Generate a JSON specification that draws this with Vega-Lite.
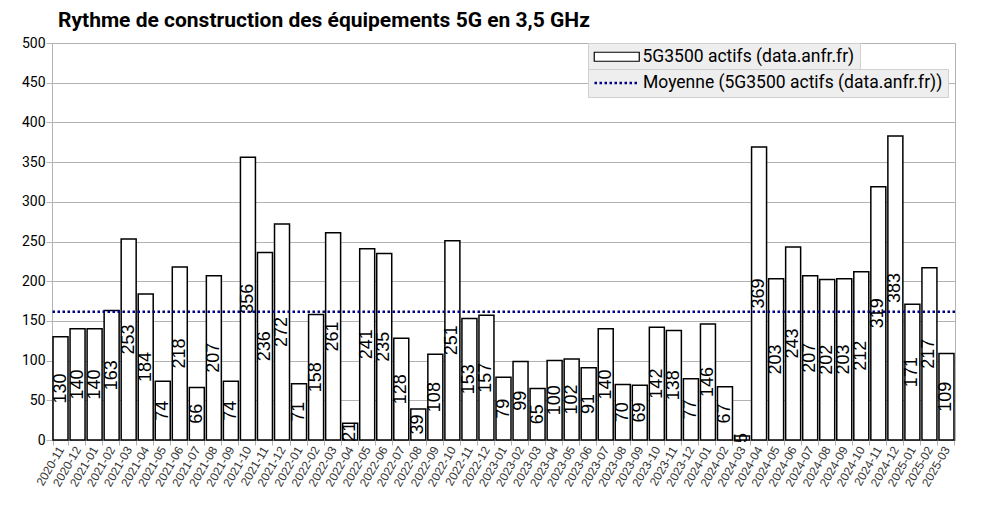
{
  "$schema": "https://vega.github.io/schema/vega-lite/v6.json",
  "width": 903,
  "height": 397,
  "autosize": "none",
  "padding": {"left": 52, "top": 43, "right": 30, "bottom": 68},
  "background": "white",
  "title": {"text": "Rythme de construction des équipements 5G en 3,5 GHz", "anchor": "start", "frame": "group", "font": "Roboto", "fontSize": 21, "fontWeight": "bold", "color": "black", "dx": 6, "offset": 5},
  "config": {"view": {"stroke": "#b3b3b3"}},
  "data": {"values": [
    {"m": "2020-11", "v": 130}, {"m": "2020-12", "v": 140},
    {"m": "2021-01", "v": 140}, {"m": "2021-02", "v": 163}, {"m": "2021-03", "v": 253}, {"m": "2021-04", "v": 184},
    {"m": "2021-05", "v": 74}, {"m": "2021-06", "v": 218}, {"m": "2021-07", "v": 66}, {"m": "2021-08", "v": 207},
    {"m": "2021-09", "v": 74}, {"m": "2021-10", "v": 356}, {"m": "2021-11", "v": 236}, {"m": "2021-12", "v": 272},
    {"m": "2022-01", "v": 71}, {"m": "2022-02", "v": 158}, {"m": "2022-03", "v": 261}, {"m": "2022-04", "v": 21},
    {"m": "2022-05", "v": 241}, {"m": "2022-06", "v": 235}, {"m": "2022-07", "v": 128}, {"m": "2022-08", "v": 39},
    {"m": "2022-09", "v": 108}, {"m": "2022-10", "v": 251}, {"m": "2022-11", "v": 153}, {"m": "2022-12", "v": 157},
    {"m": "2023-01", "v": 79}, {"m": "2023-02", "v": 99}, {"m": "2023-03", "v": 65}, {"m": "2023-04", "v": 100},
    {"m": "2023-05", "v": 102}, {"m": "2023-06", "v": 91}, {"m": "2023-07", "v": 140}, {"m": "2023-08", "v": 70},
    {"m": "2023-09", "v": 69}, {"m": "2023-10", "v": 142}, {"m": "2023-11", "v": 138}, {"m": "2023-12", "v": 77},
    {"m": "2024-01", "v": 146}, {"m": "2024-02", "v": 67}, {"m": "2024-03", "v": 5}, {"m": "2024-04", "v": 369},
    {"m": "2024-05", "v": 203}, {"m": "2024-06", "v": 243}, {"m": "2024-07", "v": 207}, {"m": "2024-08", "v": 202},
    {"m": "2024-09", "v": 203}, {"m": "2024-10", "v": 212}, {"m": "2024-11", "v": 319}, {"m": "2024-12", "v": 383},
    {"m": "2025-01", "v": 171}, {"m": "2025-02", "v": 217}, {"m": "2025-03", "v": 109}
  ]},
  "layer": [
    {
      "mark": {"type": "bar", "fill": "white", "strokeWidth": 1.5},
      "encoding": {
        "x": {"field": "m", "type": "ordinal", "scale": {"paddingInner": 0.12, "paddingOuter": 0.06},
          "axis": {"title": null, "labelAngle": -60, "labelFontSize": 12, "labelColor": "#333333", "labelFont": "Liberation Sans", "tickBand": "extent", "tickColor": "#b3b3b3", "tickSize": 5, "domainColor": "#b3b3b3", "labelPadding": 2}},
        "y": {"field": "v", "type": "quantitative", "scale": {"domain": [0, 500]},
          "axis": {"title": null, "values": [0, 50, 100, 150, 200, 250, 300, 350, 400, 450, 500], "grid": true, "gridColor": "#b3b3b3", "domainColor": "#b3b3b3", "tickColor": "#b3b3b3", "tickSize": 6, "labelFont": "Roboto", "labelFontSize": 14, "labelColor": "black", "labelPadding": 1}},
        "stroke": {"datum": "5G3500 actifs (data.anfr.fr)",
          "scale": {"domain": ["5G3500 actifs (data.anfr.fr)"], "range": ["black"]},
          "legend": {"title": null, "orient": "none", "legendX": 536, "legendY": 0, "padding": 5, "fillColor": "#eeeeee", "strokeColor": "#d0d0d0",
            "labelFont": "Roboto", "labelFontSize": 17.5, "labelColor": "black", "labelLimit": 400, "symbolSize": 225, "symbolOffset": 15, "labelOffset": 17,
            "symbolType": "M-3,-0.6H3V0.6H-3Z", "symbolFillColor": "white", "symbolStrokeWidth": 1.2}
        }
      }
    },
    {
      "mark": {"type": "rule", "stroke": "#000080", "strokeWidth": 2.5},
      "encoding": {
        "y": {"aggregate": "mean", "field": "v", "type": "quantitative", "scale": {"domain": [0, 500]}, "axis": null},
        "strokeDash": {"datum": "Moyenne (5G3500 actifs (data.anfr.fr))",
          "scale": {"domain": ["Moyenne (5G3500 actifs (data.anfr.fr))"], "range": [[2.5, 2.5]]},
          "legend": {"title": null, "orient": "none", "legendX": 536, "legendY": 26, "padding": 5, "fillColor": "#eeeeee", "strokeColor": "#d0d0d0",
            "labelFont": "Roboto", "labelFontSize": 17.5, "labelColor": "black", "labelLimit": 400, "symbolSize": 225, "symbolOffset": 15, "labelOffset": 17,
            "symbolType": "M-3,0H3", "symbolStrokeColor": "#000080", "symbolStrokeWidth": 2.5}
        }
      }
    },
    {
      "mark": {"type": "text", "angle": 270, "align": "center", "baseline": "middle", "font": "Liberation Sans", "fontSize": 18, "color": "black"},
      "encoding": {
        "x": {"field": "m", "type": "ordinal",
          "axis": {"title": null, "labelAngle": -60, "labelFontSize": 12, "labelColor": "#333333", "labelFont": "Liberation Sans", "tickBand": "extent", "tickColor": "#b3b3b3", "tickSize": 5, "domainColor": "#b3b3b3", "labelPadding": 2}},
        "y": {"field": "v", "type": "quantitative", "scale": {"domain": [0, 1000]}, "axis": null},
        "text": {"field": "v", "type": "quantitative"}
      }
    }
  ],
  "resolve": {"scale": {"y": "independent"}}
}
